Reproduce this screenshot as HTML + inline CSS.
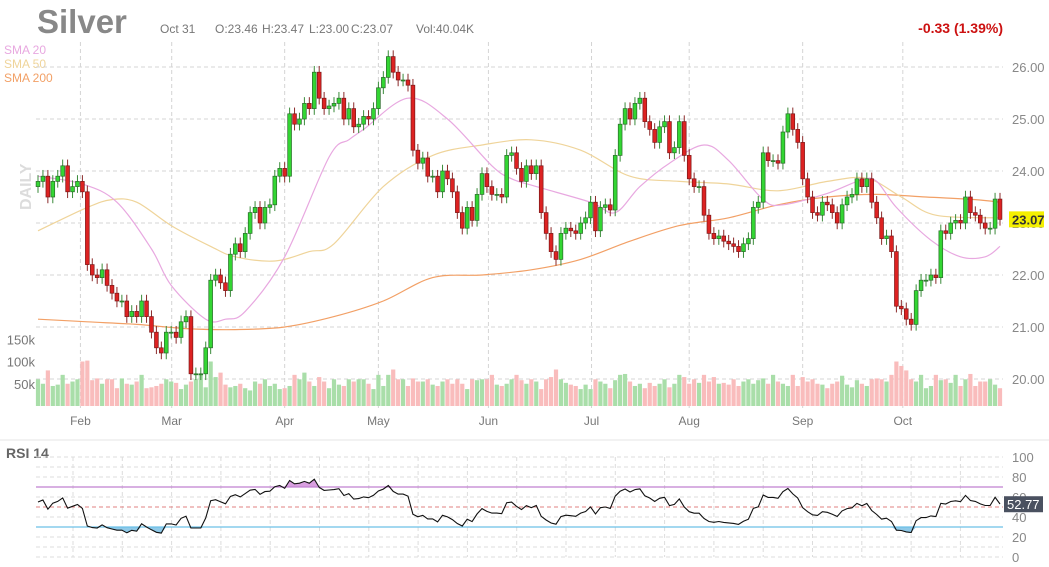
<!DOCTYPE html>
<html><head><meta charset="utf-8"><style>
html,body{margin:0;padding:0;background:#fff;width:1049px;height:567px;overflow:hidden;font-family:"Liberation Sans",Arial,sans-serif}
svg{display:block}
</style></head><body>
<svg id="chart" width="1049" height="567" viewBox="0 0 1049 567" xmlns="http://www.w3.org/2000/svg">
<text x="37" y="33" font-size="33" font-weight="bold" fill="#888">Silver</text>
<text x="160" y="33" font-size="12" fill="#777">Oct 31</text>
<text x="215" y="33" font-size="12" fill="#777">O:23.46</text>
<text x="262" y="33" font-size="12" fill="#777">H:23.47</text>
<text x="309" y="33" font-size="12" fill="#777">L:23.00</text>
<text x="351" y="33" font-size="12" fill="#777">C:23.07</text>
<text x="416" y="33" font-size="12" fill="#777">Vol:40.04K</text>
<text x="1003" y="33" font-size="14" font-weight="bold" fill="#cc1111" text-anchor="end">-0.33 (1.39%)</text>
<text x="4" y="54" font-size="12" fill="#e8a8e0">SMA 20</text>
<text x="4" y="68" font-size="12" fill="#efd49a">SMA 50</text>
<text x="4" y="82" font-size="12" fill="#f2a066">SMA 200</text>
<text x="0" y="0" font-size="16" font-weight="bold" fill="#dcdcdc" transform="translate(31,210) rotate(-90)">DAILY</text>
<line x1="0" y1="440" x2="1049" y2="440" stroke="#e6e6e6"/>
<text x="6" y="458" font-size="14" font-weight="bold" fill="#666">RSI 14</text>
<g id="g"></g>
</svg>
<script>
const closes=[23.8,23.9,23.5,23.8,23.9,24.1,23.6,23.7,23.8,23.6,22.2,
22.0,21.95,22.1,21.8,21.65,21.5,21.5,21.2,21.3,21.2,21.5,21.2,20.9,20.6,20.5,20.9,20.9,20.8,21.1,21.2,20.1,20.1,20.1,20.6,
21.9,22.0,21.85,21.7,22.4,22.6,22.45,22.8,23.2,23.3,23.0,23.3,23.35,23.9,24.05,23.9,25.1,24.9,25.0,
25.3,25.2,25.9,25.4,25.2,
25.25,25.3,25.4,25.0,25.2,24.85,24.9,25.05,25.0,25.2,25.6,25.8,26.2,25.9,25.75,25.75,25.65,24.4,24.15,24.25,23.9,23.9,23.6,24.0,23.85,23.6,23.2,22.9,23.3,23.05,23.55,23.95,23.7,23.55,23.55,23.5,24.3,24.35,24.05,23.8,24.1,23.95,24.1,23.2,22.8,22.45,22.3,22.8,22.9,22.85,22.8,23.0,23.1,23.4,22.85,23.3,23.35,23.25,24.3,24.9,25.2,25.0,25.3,25.4,24.95,24.8,24.55,24.85,
24.95,24.35,24.45,24.95,24.3,23.85,23.7,23.7,23.15,22.8,22.7,22.75,22.65,22.6,22.55,22.45,22.6,22.7,23.3,23.4,24.35,24.2,24.2,24.15,24.75,25.1,24.8,24.55,23.85,23.5,23.2,23.15,23.4,23.35,23.2,23.0,23.35,23.5,23.55,23.85,23.7,23.85,23.4,23.1,22.7,22.75,22.45,21.4,21.35,21.15,21.05,21.7,21.9,21.9,22.0,21.95,22.85,22.8,23.0,23.05,23.0,23.5,23.2,23.15,23.0,22.9,22.9,23.46,23.07];
const firstOpen=23.7;
const rsiSeedGain=0.09, rsiSeedLoss=0.08;
const volumes=[60,50,80,45,48,70,50,55,60,100,102,
58,62,50,60,60,40,62,50,48,55,70,40,42,45,50,60,55,52,38,48,55,60,70,42,
100,65,75,48,42,45,50,40,35,55,50,60,45,50,38,40,45,70,60,
75,55,45,65,55,
40,60,48,45,60,55,60,60,50,38,70,45,70,82,60,60,45,62,55,55,60,48,45,55,60,50,60,50,38,60,58,60,60,70,48,45,50,60,70,58,50,60,55,38,60,65,82,60,52,48,45,38,48,38,60,55,50,40,58,70,72,55,45,50,40,52,45,50,
60,42,50,70,65,50,60,52,70,55,65,50,52,48,60,45,55,60,50,58,62,50,70,55,50,45,70,45,65,55,60,50,48,40,50,55,68,48,42,58,50,45,60,62,60,55,70,100,90,80,60,55,70,40,45,70,58,60,52,70,45,60,72,45,55,55,60,48,40];
const sma20Idx=[0,9,16,23,27,34,38,42,50,59,63,66,75,83,92,96,101,112,117,122,128,135,140,147,151,160,167,170,174,181,187,192,195];
const sma20=[23.9,23.75,23.4,22.5,21.8,21.15,21.15,21.3,22.35,24.27,24.6,24.8,25.4,25.0,24.1,23.85,23.7,23.4,23.2,23.7,24.15,24.5,24.2,23.45,23.35,23.57,23.83,23.8,23.3,22.67,22.35,22.35,22.55];
const sma50Idx=[0,10,15,20,27,35,40,48,55,60,70,80,90,100,110,120,130,140,150,160,168,175,182,195];
const sma50=[22.85,23.3,23.45,23.4,22.95,22.55,22.35,22.27,22.45,22.6,23.7,24.3,24.5,24.6,24.4,23.9,23.8,23.75,23.62,23.8,23.86,23.5,23.15,23.1];
const sma200Idx=[0,10,20,30,40,50,60,70,80,90,100,110,120,130,140,150,160,170,180,190,195];
const sma200=[21.15,21.1,21.05,20.97,20.95,21.0,21.2,21.5,21.95,22.0,22.1,22.3,22.65,22.95,23.1,23.35,23.5,23.55,23.5,23.45,23.4];
const priceTicks=[26,25,24,23,22,21,20];
const volTicks=[150,100,50];
const rsiTicks=[100,80,60,40,20,0];
const months=["Feb","Mar","Apr","May","Jun","Jul","Aug","Sep","Oct"];
const monthIdx=[8.6,27.1,50,69,91.3,112.2,132,155,175.3];

const NS="http://www.w3.org/2000/svg";
const g=document.getElementById('g');
function el(t,a,p){const e=document.createElementNS(NS,t);for(const k in a)e.setAttribute(k,a[k]);(p||g).appendChild(e);return e;}
const n=closes.length;
const X0=38,X1=1000;
const xs=i=>X0+i*(X1-X0)/(n-1);
const yP=p=>67+(26-p)*52;
const yV=v=>406-v*0.445;
const yR=r=>557-r*1.0;
const L=36,R=1003;

priceTicks.forEach(p=>{
  const l=el('line',{x1:L,x2:R,y1:yP(p),y2:yP(p),stroke:'#d4d4d4','stroke-dasharray':'4,3'});
  
  
  const t=el('text',{x:1012,y:yP(p)+5,'font-size':13,fill:'#888'});t.textContent=p.toFixed(2);
  
  
});
months.forEach((m,k)=>{
  const x=xs(monthIdx[k]);
  const l=el('line',{x1:x,x2:x,y1:42,y2:408,stroke:'#d4d4d4','stroke-dasharray':'4,3'});
  
  
  const t=el('text',{x:x,y:425,'font-size':12,fill:'#777','text-anchor':'middle'});t.textContent=m;
  
  
});
volTicks.forEach(v=>{
  const t=el('text',{x:35,y:yV(v)+5,'font-size':13,fill:'#777','text-anchor':'end'});t.textContent=v+'k';
  
  
});
const opens=closes.map((c,i)=>i===0?firstOpen:closes[i-1]);
for(let i=0;i<n;i++){
  const up=closes[i]>=opens[i];const v=volumes[i]||0;
  const r=el('rect',{x:xs(i)-2.1,y:yV(v),width:4.2,height:406-yV(v),fill:up?'#a9dea9':'#f9bcbc'});
  
  
}
function smoothPath(pts){
  let d='M'+pts[0][0].toFixed(1)+','+pts[0][1].toFixed(1);
  for(let i=0;i<pts.length-1;i++){
    const p0=pts[Math.max(0,i-1)],p1=pts[i],p2=pts[i+1],p3=pts[Math.min(pts.length-1,i+2)];
    const c1=[p1[0]+(p2[0]-p0[0])/6,p1[1]+(p2[1]-p0[1])/6];
    const c2=[p2[0]-(p3[0]-p1[0])/6,p2[1]-(p3[1]-p1[1])/6];
    d+='C'+c1[0].toFixed(1)+','+c1[1].toFixed(1)+' '+c2[0].toFixed(1)+','+c2[1].toFixed(1)+' '+p2[0].toFixed(1)+','+p2[1].toFixed(1);
  }
  return d;
}
function smaLine(idx,vals,col,name){
  const pts=idx.map((k,j)=>[xs(k),yP(vals[j])]);
  const p=el('path',{d:smoothPath(pts),fill:'none',stroke:col,'stroke-width':1.2});
  
  
}
smaLine(sma200Idx,sma200,'#f2a066','sma200-line');
smaLine(sma50Idx,sma50,'#efd49a','sma50-line');
smaLine(sma20Idx,sma20,'#e8a8e0','sma20-line');
const WICK=0.12;
for(let i=0;i<n;i++){
  const o=opens[i],c=closes[i],up=c>=o;
  const hi=Math.max(o,c)+WICK,lo=Math.min(o,c)-WICK;
  const x=xs(i);
  const w=el('line',{x1:x,x2:x,y1:yP(hi),y2:yP(lo),stroke:up?'#3a8a3a':'#8a2a2a','stroke-width':1});
  
  
  const top=yP(Math.max(o,c)),h=Math.max(1,yP(Math.min(o,c))-top);
  const b=el('rect',{x:x-1.9,y:top,width:3.8,height:h,fill:up?'#33d633':'#dd2222',stroke:up?'#2a6a2a':'#7a1818','stroke-width':0.7});
  
  
}
const lb=el('rect',{x:1009,y:yP(closes[n-1])-8,width:35,height:16,fill:'#f4f000'});


const lt=el('text',{x:1012,y:yP(closes[n-1])+5,'font-size':13,'font-weight':'bold',fill:'#333'});lt.textContent=closes[n-1].toFixed(2);



for(let r=0;r<=100;r+=10){
  const l=el('line',{x1:L,x2:R,y1:yR(r),y2:yR(r),stroke:'#dcdcdc','stroke-dasharray':'4,3'});
  
  
}
for(let x=73;x<R;x+=49.3){
  const l=el('line',{x1:x,x2:x,y1:yR(100),y2:yR(0),stroke:'#dcdcdc','stroke-dasharray':'4,3'});
  
  
}
rsiTicks.forEach(r=>{
  const t=el('text',{x:1012,y:yR(r)+5,'font-size':13,fill:'#888'});t.textContent=r;
  
  
});
const rsi=[];let ag=rsiSeedGain,al=rsiSeedLoss;
for(let i=0;i<n;i++){
  const d=i===0?closes[0]-firstOpen:closes[i]-closes[i-1];
  const gn=Math.max(d,0),ls=Math.max(-d,0);
  ag=(ag*13+gn)/14;al=(al*13+ls)/14;
  rsi.push(al===0?100:100-100/(1+ag/al));
}
function fillBand(th,above,col,name){
  let d='';
  for(let i=0;i<n;i++){
    const v=above?Math.max(rsi[i],th):Math.min(rsi[i],th);
    d+=(i?'L':'M')+xs(i).toFixed(1)+','+yR(v).toFixed(1);
  }
  d+='L'+xs(n-1).toFixed(1)+','+yR(th)+'L'+xs(0).toFixed(1)+','+yR(th)+'Z';
  const p=el('path',{d:d,fill:col,stroke:'none'});
  
  
}
fillBand(70,true,'#d9a0e0','rsi-overbought-fill');
fillBand(30,false,'#8ec9e8','rsi-oversold-fill');
const l70=el('line',{x1:L,x2:R,y1:yR(70),y2:yR(70),stroke:'#c080d0','stroke-width':1.2});


const l30=el('line',{x1:L,x2:R,y1:yR(30),y2:yR(30),stroke:'#6cc0e8','stroke-width':1.2});


const l50=el('line',{x1:L,x2:R,y1:yR(50),y2:yR(50),stroke:'#e08080','stroke-dasharray':'4,3'});


const rl=el('polyline',{points:rsi.map((r,i)=>xs(i).toFixed(1)+','+yR(r).toFixed(1)).join(' '),fill:'none',stroke:'#111','stroke-width':1.1});


const rb=el('rect',{x:1004,y:yR(52.77)-8,width:39,height:16,fill:'#4a5160'});


const rt=el('text',{x:1007,y:yR(52.77)+5,'font-size':13,fill:'#fff'});rt.textContent='52.77';


</script>
</body></html>
